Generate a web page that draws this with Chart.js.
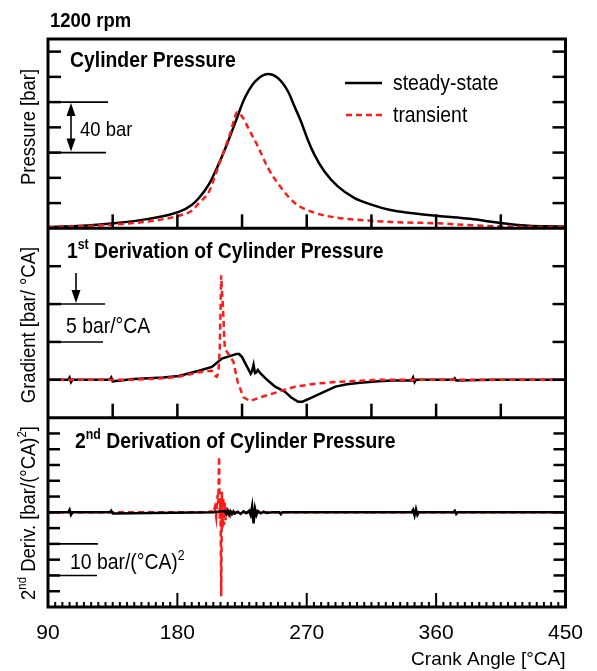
<!DOCTYPE html>
<html>
<head>
<meta charset="utf-8">
<script src="https://cdn.jsdelivr.net/npm/chart.js@4.4.0/dist/chart.umd.min.js"></script>
<style>
  body { margin: 0; background: #fff; }
  #wrap { position: relative; width: 597px; height: 671px; }
</style>
</head>
<body>
<div id="wrap"><canvas id="pressure_chart" width="597" height="671"></canvas></div>
<script>
// crank angle axis [°CA]
const xTickLabels = [90, 180, 270, 360, 450];

// cylinder pressure [bar]
const ssPressAngle = [90, 110, 136, 160, 181, 190, 195, 202, 208, 215, 221, 226, 229.3, 234, 243, 250, 257, 261.5, 266, 270.7, 275.3, 282.2, 291.4, 303, 314.4, 328.2, 342, 360, 375, 388, 397, 406.5, 415, 424.5, 437, 450];
const ssPress = [1, 1.8, 4, 7.5, 13, 18.5, 24, 35, 49, 68, 86, 101, 108.5, 116.3, 122.3, 119, 108.4, 96.5, 84.7, 70.2, 58.4, 45.2, 33.4, 24.2, 19, 14.5, 12.2, 10, 8.5, 7, 5.5, 4, 2.8, 2, 1.6, 1.5];
const trPressAngle = [90, 110, 136, 160, 181, 190, 195, 202, 207, 212, 217, 220, 221.5, 223, 226, 229.3, 236, 243, 252.3, 261.5, 275.3, 291.4, 310, 330, 360, 380, 402, 425, 450];
const trPress = [1, 1.6, 3, 5.5, 10, 14, 20, 29, 44, 60, 76, 88, 92, 91, 87, 79.5, 65, 48, 32, 20.3, 12.4, 8.4, 6.3, 5, 4, 2.8, 1.6, 1.2, 1];

// 1st derivation [bar/°CA]
const ssGradAngle = [90, 104, 105, 106, 107, 133, 134, 135, 150, 170, 181, 195, 204, 211, 217.5, 221, 223, 225, 228, 231, 232, 233, 234, 235, 236, 238, 243, 248, 251, 255, 259, 264, 267, 273, 282, 290, 298, 307, 320, 330, 343, 344, 345, 346, 372, 373, 374, 400, 450];
const ssGrad = [0, 0, 0.3, -0.3, 0, 0, 0.3, -0.2, 0.1, 0.3, 0.5, 1.2, 1.7, 2.8, 3.2, 3.4, 3.4, 3.0, 1.9, 0.8, 1.2, 2.0, 0.9, 1.0, 1.3, 0.8, -0.1, -0.9, -1.2, -1.6, -2.3, -2.9, -2.9, -2.4, -1.6, -0.9, -0.6, -0.4, -0.2, -0.1, -0.1, 0.3, -0.3, 0, 0, 0.2, -0.1, 0, 0];
const trGradAngle = [90, 150, 170, 181, 195, 204, 206.5, 207.5, 208.5, 209.5, 210.5, 211, 212, 213, 215.5, 219, 222, 226, 230.5, 238, 250, 262, 277, 290, 300, 320, 450];
const trGrad = [0, 0, 0.2, 0.4, 1.0, 1.2, 0.5, 0.4, 1.0, 4, 13.8, 12, 8.5, 4.1, 3.4, 2.4, -0.3, -2.3, -2.8, -2.3, -1.6, -0.9, -0.5, -0.3, -0.2, 0, 0];

// 2nd derivation [bar/(°CA)^2]
const ssDerivAngle = [90, 104, 105, 106, 107, 133, 134, 135, 205, 213, 214, 215, 216, 217, 218, 219, 220, 222, 224, 226, 228, 230, 231, 232, 233, 234, 235, 236, 238, 240, 242, 246, 251, 252, 253, 300, 343, 344, 345, 346, 347, 348, 372, 373, 374, 375, 450];
const ssDeriv = [0, 0, 0.8, -0.8, 0, 0, 0.5, -0.4, 0, 0.4, -0.6, 0.5, -0.8, 0.3, -0.5, 0.3, -0.4, 0.2, -0.5, 0.3, -0.3, 0.5, -0.8, 1.9, -3.5, 1.2, -0.8, 0.4, -0.3, 0.2, -0.2, 0, 0, -0.6, 0, 0, 0, 0.8, -1.0, 1.0, -0.8, 0, 0, 0.5, -0.5, 0, 0];
const trDerivAngle = [90, 200, 204, 205, 206, 207, 207.5, 208, 208.5, 209, 209.5, 210, 210.5, 211, 211.5, 212, 212.5, 213, 213.5, 214, 215, 216, 217, 218, 219, 220, 313, 314, 315, 450];
const trDeriv = [0, 0, 0.3, -0.3, 1.5, -1.5, 3, 5.5, 3, 17.7, -2, 4, -26.6, 6.5, -5, 4.5, -4, 3, -2.5, 2, -1.5, 1.2, -0.8, 0.4, -0.3, 0, 0, -0.8, 0, 0];

const FONT = "'Liberation Sans', Arial, sans-serif";
const NARROW = 0.88;
const RED = '#ff1a1a';

function pts(xs, ys) {
    return xs.map((x, i) => ({ x: x, y: ys[i] }));
}

// narrow text with optional superscript parts: [[text, isSup], ...]
function richText(ctx, parts, x, y, size, bold, align) {
    const w = bold ? 'bold ' : '';
    const fontOf = p => w + (p[1] ? Math.round(size * 0.62) : size) + 'px ' + FONT;
    let total = 0;
    const widths = parts.map(p => {
        ctx.font = fontOf(p);
        const m = ctx.measureText(p[0]).width;
        total += m;
        return m;
    });
    ctx.save();
    ctx.translate(x, y);
    ctx.scale(NARROW, 1);
    let cx = align == 'center' ? -total / 2 : 0;
    ctx.textAlign = 'left';
    ctx.textBaseline = 'alphabetic';
    parts.forEach((p, i) => {
        ctx.font = fontOf(p);
        ctx.fillText(p[0], cx, p[1] ? -size * 0.42 : 0);
        cx += widths[i];
    });
    ctx.restore();
}

function line(ctx, x1, y1, x2, y2) {
    ctx.beginPath();
    ctx.moveTo(x1, y1);
    ctx.lineTo(x2, y2);
    ctx.stroke();
}

function arrowHead(ctx, x, y, dir) {
    // dir = 1 points down, -1 points up
    ctx.beginPath();
    ctx.moveTo(x, y);
    ctx.lineTo(x - 4.5, y - dir * 13);
    ctx.lineTo(x + 4.5, y - dir * 13);
    ctx.closePath();
    ctx.fill();
}

const framePlugin = {
    id: 'frame',
    afterDraw(chart) {
        const ctx = chart.ctx;
        const { left, right, top, bottom } = chart.chartArea;
        const sx = chart.scales.x, yP = chart.scales.yP, yG = chart.scales.yG, yD = chart.scales.yD;
        ctx.save();
        ctx.strokeStyle = '#000';
        ctx.fillStyle = '#000';
        ctx.lineCap = 'butt';

        // inner y ticks, both sides
        ctx.lineWidth = 2.5;
        const yTicks = (scale, vals, len) => {
            vals.forEach(v => {
                const py = scale.getPixelForValue(v);
                line(ctx, left, py, left + len, py);
                line(ctx, right, py, right - len, py);
            });
        };
        yTicks(yP, [20, 40, 60, 80, 100, 120, 140], 13);
        yTicks(yG, [0, 5, 10, 15], 13);
        yTicks(yD, [-25, -20, -15, -10, -5, 0, 5, 10, 15, 20, 25], 12);

        // x ticks
        [135, 180, 225, 270, 315, 360, 405].forEach(v => {
            const px = sx.getPixelForValue(v);
            line(ctx, px, yP.bottom, px, yP.bottom - 14);
            line(ctx, px, yG.bottom, px, yG.bottom - 14);
        });
        ctx.lineWidth = 2;
        for (let v = 95; v < 450; v += 5) {
            const px = sx.getPixelForValue(v);
            const len = v % 90 == 0 ? 14 : 5;
            line(ctx, px, yD.bottom, px, yD.bottom - len);
        }

        // frame and panel separators
        ctx.lineWidth = 3;
        ctx.strokeRect(left, top, right - left, bottom - top);
        line(ctx, left, yP.bottom, right, yP.bottom);
        line(ctx, left, yG.bottom, right, yG.bottom);

        // scale bars
        ctx.lineWidth = 1.6;
        line(ctx, left, yP.getPixelForValue(100), left + 60, yP.getPixelForValue(100));
        line(ctx, left, yP.getPixelForValue(60), left + 58, yP.getPixelForValue(60));
        line(ctx, left, yG.getPixelForValue(10), left + 57, yG.getPixelForValue(10));
        line(ctx, left, yG.getPixelForValue(5), left + 55, yG.getPixelForValue(5));
        line(ctx, left, yD.getPixelForValue(-10), left + 50, yD.getPixelForValue(-10));
        line(ctx, left, yD.getPixelForValue(-20), left + 49, yD.getPixelForValue(-20));

        // arrows
        const a1 = yP.getPixelForValue(100), a2 = yP.getPixelForValue(60);
        line(ctx, 71, a1 + 8, 71, a2 - 8);
        arrowHead(ctx, 71, a1 + 1, -1);
        arrowHead(ctx, 71, a2 - 1, 1);
        const g1 = yG.getPixelForValue(10);
        line(ctx, 76, g1 - 31, 76, g1 - 8);
        arrowHead(ctx, 76, g1 - 1, 1);

        // legend
        ctx.lineWidth = 2.5;
        line(ctx, 345, 83, 382, 83);
        ctx.strokeStyle = RED;
        ctx.setLineDash([6, 4]);
        line(ctx, 346, 115, 382, 115);
        ctx.setLineDash([]);

        // texts
        richText(ctx, [['1200 rpm']], 50, 27, 21, true, 'left');
        richText(ctx, [['Cylinder Pressure']], 70, 67, 22, true, 'left');
        richText(ctx, [['1', false], ['st', true], [' Derivation of Cylinder Pressure', false]], 67, 258, 22, true, 'left');
        richText(ctx, [['2', false], ['nd', true], [' Derivation of Cylinder Pressure', false]], 75, 448, 22, true, 'left');
        richText(ctx, [['steady-state']], 393, 90, 22, false, 'left');
        richText(ctx, [['transient']], 393, 122, 22, false, 'left');
        richText(ctx, [['40 bar']], 80, 136, 21, false, 'left');
        richText(ctx, [['5 bar/°CA']], 66, 333, 22, false, 'left');
        richText(ctx, [['10 bar/(°CA)', false], ['2', true]], 70, 569, 22, false, 'left');

        // rotated axis titles
        const vTitle = (parts, cy) => {
            ctx.save();
            ctx.translate(35, cy);
            ctx.rotate(-Math.PI / 2);
            richText(ctx, parts, 0, 0, 21, false, 'center');
            ctx.restore();
        };
        vTitle([['Pressure [bar]']], 127);
        vTitle([['Gradient [bar/ °CA]']], 325);
        vTitle([['2', false], ['nd', true], [' Deriv. [bar/(°CA)', false], ['2', true], [']', false]], 513);

        ctx.restore();
    }
};

const hiddenY = (min, max, weight) => ({
    type: 'linear',
    position: 'left',
    stack: 'panels',
    stackWeight: 1,
    weight: weight,
    min: min,
    max: max,
    grid: { display: false, drawTicks: false, tickLength: 0 },
    border: { display: false },
    ticks: { display: false }
});

const lineStyle = (color, dashed) => ({
    borderColor: color,
    borderWidth: 2.5,
    borderDash: dashed ? [6, 4] : [],
    pointRadius: 0,
    fill: false
});

new Chart(document.getElementById('pressure_chart'), {
    type: 'line',
    data: {
        datasets: [
            Object.assign({ label: 'steady-state', data: pts(ssPressAngle, ssPress), yAxisID: 'yP', cubicInterpolationMode: 'monotone', order: 2 }, lineStyle('#000', false)),
            Object.assign({ label: 'transient', data: pts(trPressAngle, trPress), yAxisID: 'yP', cubicInterpolationMode: 'monotone', order: 1 }, lineStyle(RED, true)),
            Object.assign({ label: 'steady-state grad', data: pts(ssGradAngle, ssGrad), yAxisID: 'yG', order: 2 }, lineStyle('#000', false)),
            Object.assign({ label: 'transient grad', data: pts(trGradAngle, trGrad), yAxisID: 'yG', order: 1 }, lineStyle(RED, true)),
            Object.assign({ label: 'steady-state deriv', data: pts(ssDerivAngle, ssDeriv), yAxisID: 'yD', order: 1 }, lineStyle('#000', false)),
            Object.assign({ label: 'transient deriv', data: pts(trDerivAngle, trDeriv), yAxisID: 'yD', order: 2 }, lineStyle(RED, true))
        ]
    },
    options: {
        responsive: false,
        animation: false,
        layout: { padding: { left: 48, right: 27, top: 39, bottom: 0 } },
        plugins: { legend: { display: false }, tooltip: { enabled: false } },
        scales: {
            x: {
                type: 'linear',
                position: 'bottom',
                min: 90,
                max: 450,
                afterBuildTicks: axis => { axis.ticks = xTickLabels.map(v => ({ value: v })); },
                grid: { display: false, drawTicks: false, tickLength: 0 },
                border: { display: false },
                ticks: { color: '#000', padding: 14, maxRotation: 0, autoSkip: false, font: { family: FONT, size: 21 } },
                title: { display: true, text: 'Crank Angle [°CA]', align: 'end', color: '#000', padding: { top: -12, bottom: 0 }, font: { family: FONT, size: 19 } }
            },
            yP: hiddenY(0, 150, 3),
            yG: hiddenY(-5, 20, 2),
            yD: hiddenY(-30, 30, 1)
        }
    },
    plugins: [framePlugin]
});
</script>
</body>
</html>
